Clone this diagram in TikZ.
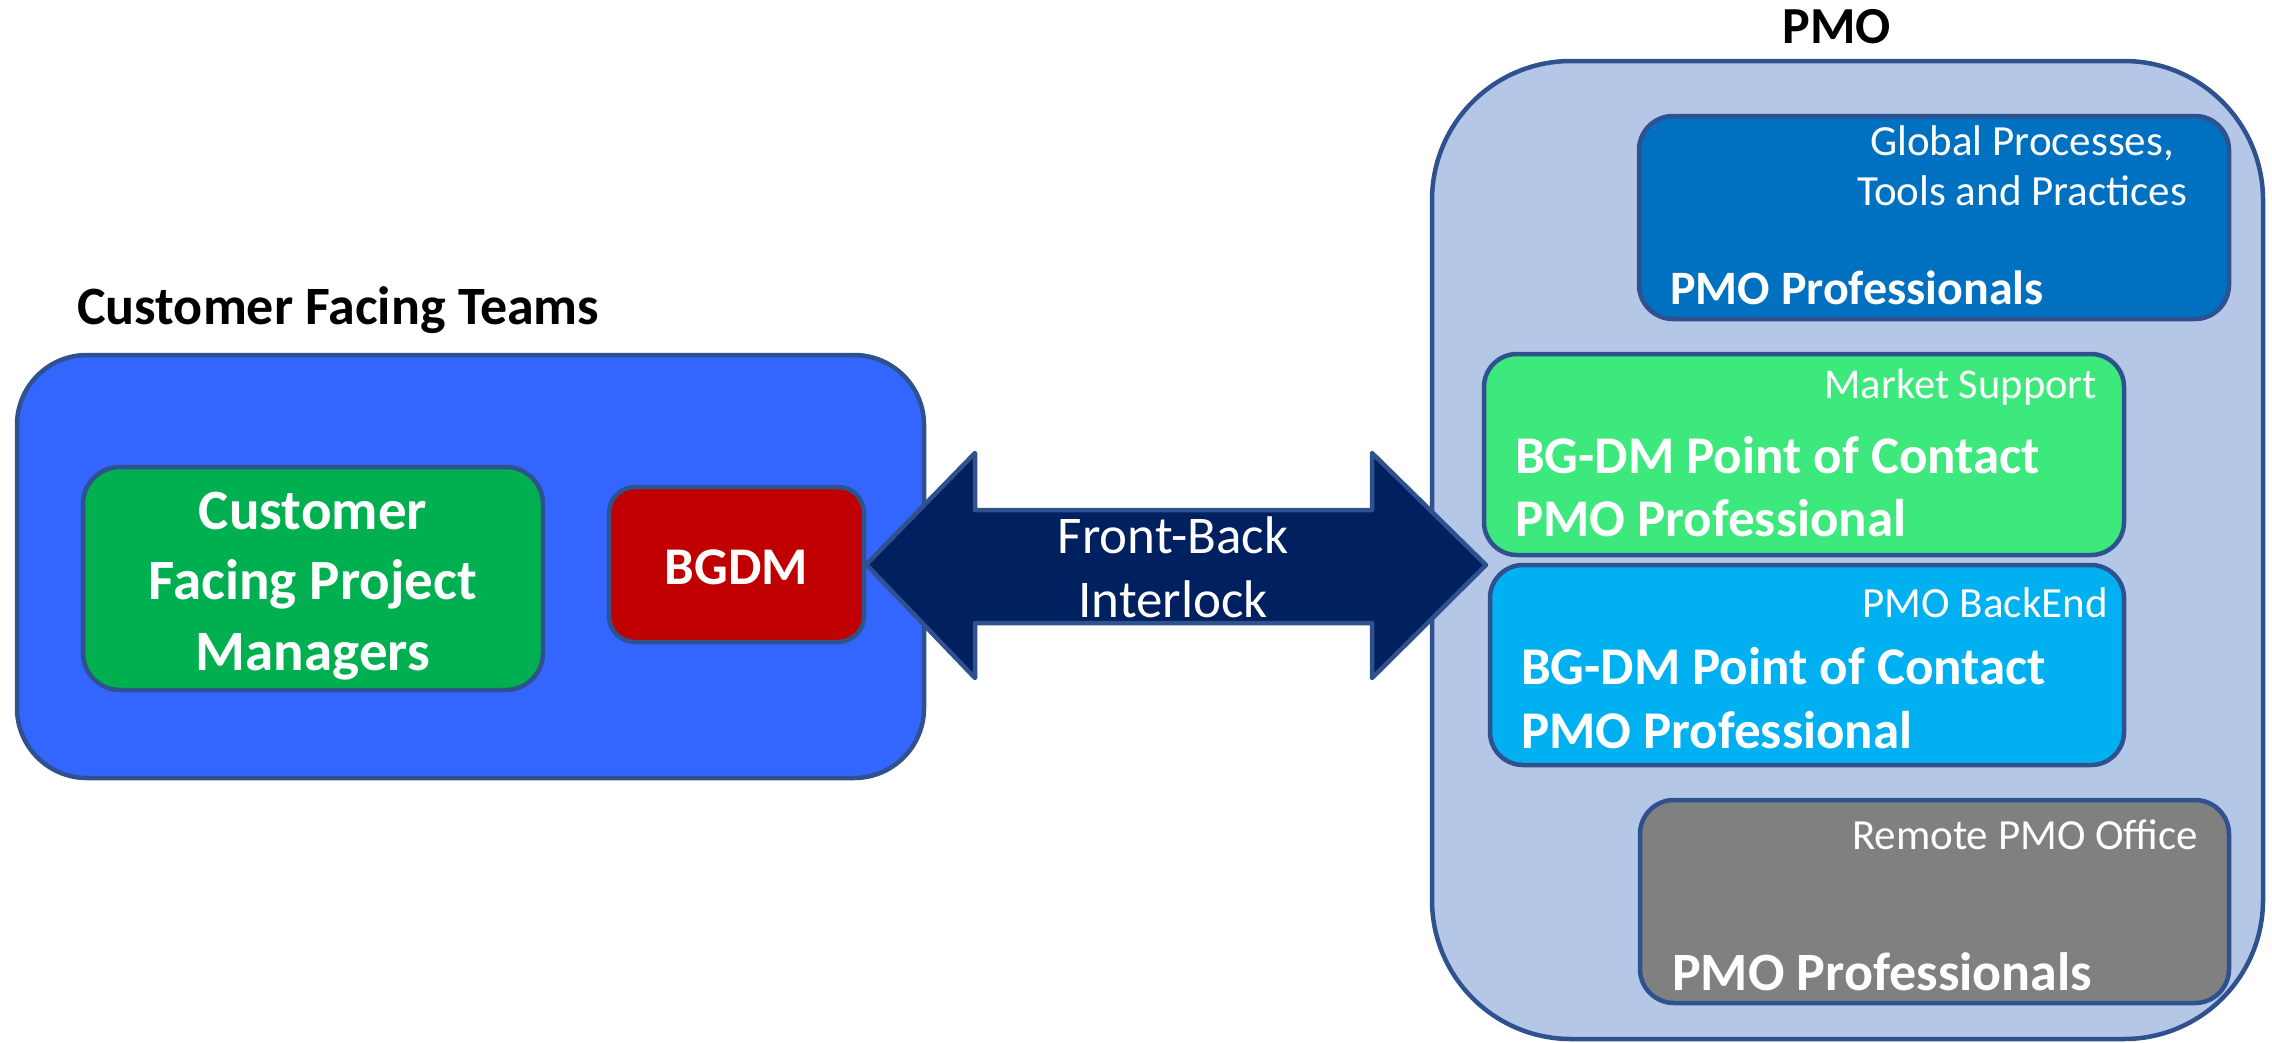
\documentclass[tikz,border=0pt]{standalone}
\usepackage{fontspec}
\setmainfont{Carlito}
\definecolor{bordc}{HTML}{2F528F}
\definecolor{cftblue}{HTML}{3366FF}
\definecolor{cfpm}{HTML}{00B050}
\definecolor{bgdmred}{HTML}{C00000}
\definecolor{arrowc}{HTML}{002060}
\definecolor{pmobg}{HTML}{B4C7E7}
\definecolor{globalc}{HTML}{0070C0}
\definecolor{marketc}{HTML}{3DE97C}
\definecolor{backendc}{HTML}{00B0F0}
\definecolor{remotec}{HTML}{808080}
\newcommand{\fs}[2]{\fontsize{#1}{#2}\selectfont}
\begin{document}
\begin{tikzpicture}[x=1pt,y=-1pt,
  box/.style={draw=bordc, line width=4.5pt, inner sep=0pt},
  lbl/.style={inner sep=0pt, text=white},
  ttl/.style={inner sep=0pt, text=black}]
\useasboundingbox (0,0) rectangle (2272,1042);
% left group
\node[ttl, anchor=base west, font=\fs{54}{64}\bfseries] (cftt) at (77,324) {Customer Facing Teams};
\node[box, fill=cftblue, minimum width=907pt, minimum height=423pt, rounded corners=70pt] (cft) at (470.5,566.5) {};
\node[box, fill=cfpm, minimum width=460pt, minimum height=223pt, rounded corners=37pt] (cfpm) at (313,578.5) {};
\node[lbl, align=center, anchor=base, font=\fs{57}{70.5}\bfseries] (cfpmt) at (313,670) {Customer\\Facing Project\\Managers};
\node[box, fill=bgdmred, minimum width=255pt, minimum height=155pt, rounded corners=26pt] (bgdm) at (736.5,564.5) {};
\node[lbl, anchor=base, font=\fs{53}{64}\bfseries] (bgdmt) at (736.5,584) {BGDM};
% right group
\node[ttl, anchor=base, font=\fs{52}{62}\bfseries] (pmot) at (1837,43) {PMO};
\node[box, fill=pmobg, minimum width=831pt, minimum height=978pt, rounded corners=139pt] (pmo) at (1847.5,550) {};
\node[box, fill=globalc, minimum width=590pt, minimum height=203pt, rounded corners=34pt] (glob) at (1934,217.5) {};
\node[lbl, align=center, anchor=base, font=\fs{43}{50}] (globt) at (2022,205) {Global Processes,\\Tools and Practices};
\node[lbl, anchor=base west, font=\fs{48}{56}\bfseries] (globp) at (1670,304) {PMO Professionals};
\node[box, fill=marketc, minimum width=640pt, minimum height=201pt, rounded corners=33pt] (mkt) at (1804,454.5) {};
\node[lbl, anchor=base east, font=\fs{42.5}{50}] (mktt) at (2097,398) {Market Support};
\node[lbl, anchor=base west, align=left, font=\fs{53}{63}\bfseries] (mktp) at (1515,536) {BG-DM Point of Contact\\PMO Professional};
\node[box, fill=backendc, minimum width=634pt, minimum height=200pt, rounded corners=33pt] (bke) at (1807,665) {};
\node[lbl, anchor=base east, font=\fs{43}{50}] (bket) at (2108,617) {PMO BackEnd};
\node[lbl, anchor=base west, align=left, font=\fs{53}{64}\bfseries] (bkep) at (1521,748) {BG-DM Point of Contact\\PMO Professional};
\node[box, fill=remotec, minimum width=589pt, minimum height=203pt, rounded corners=34pt] (rem) at (1934.5,901.5) {};
\node[lbl, anchor=base, font=\fs{43}{50}] (remt) at (2025,849) {Remote PMO Office};
\node[lbl, anchor=base west, font=\fs{54}{62}\bfseries] (remp) at (1672,990) {PMO Professionals};
% double arrow connector
\coordinate (ltip) at (bgdm.east);
\coordinate (rtip) at (1486,565);
\draw[draw=bordc, fill=arrowc, line width=4.5pt, line join=round]
  (ltip) -- (975,453) -- (975,510) -- (1372,510) -- (1372,453) -- (rtip)
  -- (1372,678) -- (1372,623) -- (975,623) -- (975,678) -- cycle;
\node[lbl, align=center, anchor=base, font=\fs{53}{64}] (fbi) at (1173,617) {Front-Back\\Interlock};
\end{tikzpicture}
\end{document}
